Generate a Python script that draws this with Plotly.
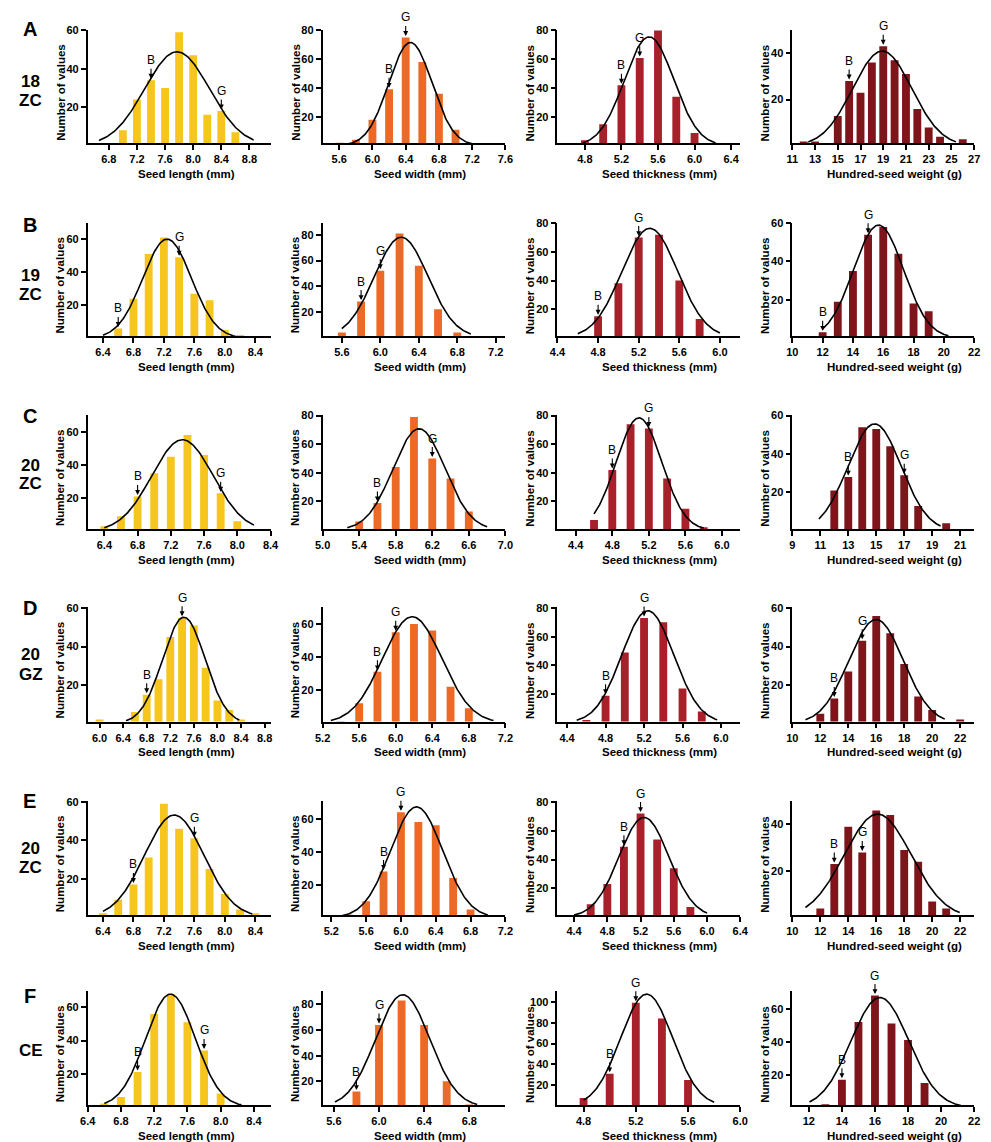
import numpy as np
import plotly.graph_objects as go

# The page body has an 8px margin: the figure is drawn at (8, 8) in the window.
OFF = 8
W, H = 991 - OFF, 1142 - OFF
FONT = "Liberation Sans, Arial, sans-serif"

row_letters = ["A", "B", "C", "D", "E", "F"]
row_ids = [["18", "ZC"], ["19", "ZC"], ["20", "ZC"], ["20", "GZ"], ["20", "ZC"], ["CE"]]
x_titles = ["Seed length (mm)", "Seed width (mm)", "Seed thickness (mm)", "Hundred-seed weight (g)"]
y_title = "Number of values"
colors = ["#F6C51E", "#EC6A26", "#A8202A", "#7D151B"]

# ---------------- bar data (bin centre, count) ----------------
A1_x = [7.0, 7.2, 7.4, 7.6, 7.8, 8.0, 8.2, 8.4, 8.6]
A1_y = [8, 24, 34, 30, 59, 47, 16, 18, 7]
A2_x = [5.6, 5.8, 6.0, 6.2, 6.4, 6.6, 6.8, 7.0, 7.2]
A2_y = [2, 4, 18, 39, 75, 58, 36, 11, 1]
A3_x = [4.8, 5.0, 5.2, 5.4, 5.6, 5.8, 6.0, 6.2]
A3_y = [4, 15, 42, 61, 80, 34, 9, 1]
A4_x = [12, 13, 14, 15, 16, 17, 18, 19, 20, 21, 22, 23, 24, 25, 26]
A4_y = [2, 2, 0, 13, 28, 23, 36, 43, 37, 31, 16, 8, 4, 0, 3]

B1_x = [6.6, 6.8, 7.0, 7.2, 7.4, 7.6, 7.8, 8.0, 8.2]
B1_y = [6, 24, 51, 61, 49, 27, 23, 5, 2]
B2_x = [5.6, 5.8, 6.0, 6.2, 6.4, 6.6, 6.8]
B2_y = [4, 28, 52, 81, 56, 22, 4]
B3_x = [4.8, 5.0, 5.2, 5.4, 5.6, 5.8]
B3_y = [15, 38, 70, 72, 40, 13]
B4_x = [12, 13, 14, 15, 16, 17, 18, 19, 20]
B4_y = [3, 19, 35, 54, 58, 44, 18, 14, 1]

C1_x = [6.4, 6.6, 6.8, 7.0, 7.2, 7.4, 7.6, 7.8, 8.0]
C1_y = [3, 9, 21, 35, 45, 58, 46, 23, 6]
C2_x = [5.4, 5.6, 5.8, 6.0, 6.2, 6.4, 6.6]
C2_y = [6, 19, 44, 79, 50, 36, 13]
C3_x = [4.6, 4.8, 5.0, 5.2, 5.4, 5.6, 5.8]
C3_y = [7, 42, 74, 71, 36, 15, 2]
C4_x = [12, 13, 14, 15, 16, 17, 18, 19, 20]
C4_y = [21, 28, 54, 53, 44, 29, 13, 0, 4]

D1_x = [6.0, 6.2, 6.4, 6.6, 6.8, 7.0, 7.2, 7.4, 7.6, 7.8, 8.0, 8.2, 8.4]
D1_y = [2, 0, 0, 6, 15, 23, 45, 55, 51, 29, 12, 7, 2]
D2_x = [5.4, 5.6, 5.8, 6.0, 6.2, 6.4, 6.6, 6.8]
D2_y = [1, 12, 31, 55, 60, 56, 22, 9]
D3_x = [4.6, 4.8, 5.0, 5.2, 5.4, 5.6, 5.8]
D3_y = [2, 19, 49, 73, 70, 24, 8]
D4_x = [12, 13, 14, 15, 16, 17, 18, 19, 20, 21, 22]
D4_y = [5, 13, 27, 43, 56, 47, 31, 14, 7, 0, 2]

E1_x = [6.4, 6.6, 6.8, 7.0, 7.2, 7.4, 7.6, 7.8, 8.0, 8.2, 8.4]
E1_y = [2, 9, 17, 31, 59, 46, 41, 25, 12, 4, 2]
E2_x = [5.4, 5.6, 5.8, 6.0, 6.2, 6.4, 6.6, 6.8]
E2_y = [2, 10, 28, 64, 58, 56, 24, 5]
E3_x = [4.6, 4.8, 5.0, 5.2, 5.4, 5.6, 5.8]
E3_y = [9, 23, 49, 72, 54, 34, 7]
E4_x = [12, 13, 14, 15, 16, 17, 18, 19, 20, 21]
E4_y = [4, 23, 39, 28, 46, 44, 29, 24, 7, 4]

F1_x = [6.6, 6.8, 7.0, 7.2, 7.4, 7.6, 7.8, 8.0, 8.2]
F1_y = [2, 6, 21, 56, 68, 51, 34, 8, 1]
F2_x = [5.6, 5.8, 6.0, 6.2, 6.4, 6.6, 6.8]
F2_y = [1, 12, 64, 83, 64, 20, 2]
F3_x = [4.8, 5.0, 5.2, 5.4, 5.6]
F3_y = [8, 31, 99, 84, 25]
F4_x = [13, 14, 15, 16, 17, 18, 19]
F4_y = [2, 17, 52, 68, 51, 41, 15]

# ---------------- fitted normal curves: (amplitude, mean, sd, x start, x end) ----------------
fit_A = [(48.8, 7.77, 0.46, 6.66, 8.86), (71.5, 6.457, 0.26, 5.66, 7.25),
         (75.6, 5.503, 0.27, 4.78, 6.23), (40.9, 18.91, 2.6, 12.4, 25.4)]
fit_B = [(60.0, 7.242, 0.32, 6.40, 8.14), (78.2, 6.217, 0.28, 5.60, 6.94),
         (76.5, 5.309, 0.275, 4.60, 6.00), (59.0, 15.69, 1.65, 12.0, 20.3)]
fit_C = [(55.2, 7.34, 0.37, 6.40, 8.20), (70.8, 6.055, 0.285, 5.27, 6.80),
         (78.4, 5.092, 0.25, 4.60, 5.80), (55.7, 14.88, 1.9, 10.9, 19.6)]
fit_D = [(55.3, 7.43, 0.36, 6.45, 8.37), (64.4, 6.18, 0.325, 5.29, 7.07),
         (78.1, 5.239, 0.27, 4.50, 5.96), (54.1, 15.99, 1.95, 10.94, 20.9)]
fit_E = [(53.1, 7.335, 0.39, 6.40, 8.36), (67.2, 6.179, 0.30, 5.31, 7.00),
         (69.4, 5.241, 0.30, 4.40, 6.00), (44.4, 16.1, 2.4, 10.94, 21.97)]
fit_F = [(68.0, 7.396, 0.30, 6.60, 8.25), (87.5, 6.21, 0.24, 5.61, 6.87),
         (107.3, 5.283, 0.20, 4.80, 5.80), (66.8, 16.3, 1.75, 12.04, 21.2)]

# ---------------- B / G markers (letter, x of marked bar) ----------------
marks_A = [[("B", 7.4), ("G", 8.4)], [("B", 6.2), ("G", 6.4)], [("B", 5.2), ("G", 5.4)], [("B", 16), ("G", 19)]]
marks_B = [[("B", 6.6), ("G", 7.4)], [("B", 5.8), ("G", 6.0)], [("B", 4.8), ("G", 5.2)], [("B", 12), ("G", 15)]]
marks_C = [[("B", 6.8), ("G", 7.8)], [("B", 5.6), ("G", 6.2)], [("B", 4.8), ("G", 5.2)], [("B", 13), ("G", 17)]]
marks_D = [[("B", 6.8), ("G", 7.4)], [("B", 5.8), ("G", 6.0)], [("B", 4.8), ("G", 5.2)], [("B", 13), ("G", 15)]]
marks_E = [[("B", 6.8), ("G", 7.6)], [("B", 5.8), ("G", 6.0)], [("B", 5.0), ("G", 5.2)], [("B", 13), ("G", 15)]]
marks_F = [[("B", 7.0), ("G", 7.8)], [("B", 5.8), ("G", 6.0)], [("B", 5.0), ("G", 5.2)], [("B", 14), ("G", 16)]]

# ---------------- axis ranges and ticks ----------------
xr_A = [(6.5, 9.1), (5.4, 7.6), (4.5, 6.5), (11, 27)]
xr_B = [(6.2, 8.6), (5.4, 7.3), (4.4, 6.2), (10, 22)]
xr_C = [(6.2, 8.4), (5.0, 7.0), (4.2, 6.2), (9, 22)]
xr_D = [(5.8, 8.9), (5.2, 7.2), (4.3, 6.2), (10, 23)]
xr_E = [(6.2, 8.6), (5.1, 7.2), (4.2, 6.4), (10, 23)]
xr_F = [(6.4, 8.6), (5.5, 7.12), (4.6, 6.0), (11, 22)]

yr_A = [(1.2, 60.2), (1.6, 80.2), (1.8, 80.4), (1.2, 50.0)]
yr_B = [(1.4, 70.0), (1.2, 89.6), (1.2, 80.5), (1.1, 60.3)]
yr_C = [(1.4, 70.2), (0.8, 80.5), (0.8, 80.5), (1.0, 60.4)]
yr_D = [(1.0, 60.7), (0.9, 70.4), (1.0, 80.8), (1.0, 60.7)]
yr_E = [(1.0, 60.5), (1.5, 70.9), (1.3, 80.9), (1.1, 50.1)]
yr_F = [(1.0, 70.0), (1.4, 90.6), (1.0, 110.5), (1.5, 70.9)]

xt_A = [[6.8, 7.2, 7.6, 8.0, 8.4, 8.8], [5.6, 6.0, 6.4, 6.8, 7.2, 7.6], [4.8, 5.2, 5.6, 6.0, 6.4], [11, 13, 15, 17, 19, 21, 23, 25, 27]]
xt_B = [[6.4, 6.8, 7.2, 7.6, 8.0, 8.4], [5.6, 6.0, 6.4, 6.8, 7.2], [4.4, 4.8, 5.2, 5.6, 6.0], [10, 12, 14, 16, 18, 20, 22]]
xt_C = [[6.4, 6.8, 7.2, 7.6, 8.0, 8.4], [5.0, 5.4, 5.8, 6.2, 6.6, 7.0], [4.4, 4.8, 5.2, 5.6, 6.0], [9, 11, 13, 15, 17, 19, 21]]
xt_D = [[6.0, 6.4, 6.8, 7.2, 7.6, 8.0, 8.4, 8.8], [5.2, 5.6, 6.0, 6.4, 6.8, 7.2], [4.4, 4.8, 5.2, 5.6, 6.0], [10, 12, 14, 16, 18, 20, 22]]
xt_E = [[6.4, 6.8, 7.2, 7.6, 8.0, 8.4], [5.2, 5.6, 6.0, 6.4, 6.8, 7.2], [4.4, 4.8, 5.2, 5.6, 6.0, 6.4], [10, 12, 14, 16, 18, 20, 22]]
xt_F = [[6.4, 6.8, 7.2, 7.6, 8.0, 8.4], [5.6, 6.0, 6.4, 6.8], [4.8, 5.2, 5.6, 6.0], [12, 14, 16, 18, 20, 22]]

yt_A = [[20, 40, 60], [20, 40, 60, 80], [20, 40, 60, 80], [20, 40]]
yt_B = [[20, 40, 60], [20, 40, 60, 80], [20, 40, 60, 80], [20, 40, 60]]
yt_C = [[20, 40, 60], [20, 40, 60, 80], [20, 40, 60, 80], [20, 40, 60]]
yt_D = [[20, 40, 60], [20, 40, 60], [20, 40, 60, 80], [20, 40, 60]]
yt_E = [[20, 40, 60], [20, 40, 60], [20, 40, 60, 80], [20, 40]]
yt_F = [[20, 40, 60], [20, 40, 60, 80], [20, 40, 60, 80, 100], [20, 40, 60]]

bars = [[(A1_x, A1_y), (A2_x, A2_y), (A3_x, A3_y), (A4_x, A4_y)],
        [(B1_x, B1_y), (B2_x, B2_y), (B3_x, B3_y), (B4_x, B4_y)],
        [(C1_x, C1_y), (C2_x, C2_y), (C3_x, C3_y), (C4_x, C4_y)],
        [(D1_x, D1_y), (D2_x, D2_y), (D3_x, D3_y), (D4_x, D4_y)],
        [(E1_x, E1_y), (E2_x, E2_y), (E3_x, E3_y), (E4_x, E4_y)],
        [(F1_x, F1_y), (F2_x, F2_y), (F3_x, F3_y), (F4_x, F4_y)]]
fits = [fit_A, fit_B, fit_C, fit_D, fit_E, fit_F]
marks = [marks_A, marks_B, marks_C, marks_D, marks_E, marks_F]
xranges = [xr_A, xr_B, xr_C, xr_D, xr_E, xr_F]
yranges = [yr_A, yr_B, yr_C, yr_D, yr_E, yr_F]
xticks = [xt_A, xt_B, xt_C, xt_D, xt_E, xt_F]
yticks = [yt_A, yt_B, yt_C, yt_D, yt_E, yt_F]

# ---------------- layout geometry (window pixels) ----------------
col_px = [(81, 267), (320, 506), (559, 745), (798, 983)]
row_px = [(24, 138), (217.7, 331.7), (411, 525.7), (604, 719.3), (799, 914), (990, 1105)]
xtitle_cx = [182, 419, 663, 902]
letter_y = [22.7, 220, 411.7, 605, 799, 995]
id_line_y = [[76, 95], [271, 290], [462, 480], [652, 672], [847, 866], [1050]]
BAR_PX = 8

fig = go.Figure()
ann = []


def px2x(p):
    return (p - OFF) / W


def px2y(p):
    return 1 - (p - OFF) / H


for r in range(6):
    for c in range(4):
        k = r * 4 + c + 1
        xa = "x" if k == 1 else f"x{k}"
        ya = "y" if k == 1 else f"y{k}"
        xs, ys = bars[r][c]
        x0p, x1p = col_px[c]
        tp, bp = row_px[r]
        xr = xranges[r][c]
        yr = yranges[r][c]
        upx = (x1p - x0p) / (xr[1] - xr[0])
        fig.add_trace(go.Bar(x=xs, y=ys, width=BAR_PX / upx,
                             marker=dict(color=colors[c], line=dict(width=0)),
                             xaxis=xa, yaxis=ya, showlegend=False, hoverinfo="skip"))
        amp, mu, sd, xa0, xa1 = fits[r][c]
        cx = np.linspace(xa0, xa1, 160)
        cy = amp * np.exp(-0.5 * ((cx - mu) / sd) ** 2)
        fig.add_trace(go.Scatter(x=cx, y=cy, mode="lines", line=dict(color="black", width=1.6),
                                 xaxis=xa, yaxis=ya, showlegend=False, hoverinfo="skip"))
        if c == 3:
            xtt = [f"<b>{int(v)}</b>" for v in xticks[r][c]]
        else:
            xtt = [f"<b>{v:.1f}</b>" for v in xticks[r][c]]
        ytt = [f"<b>{v}</b>" for v in yticks[r][c]]
        axcommon = dict(showline=True, linecolor="black", linewidth=1.6, showgrid=False,
                        zeroline=False, ticks="outside", tickwidth=1.5, tickcolor="black",
                        tickfont=dict(family=FONT, size=11, color="black"))
        fig.layout["xaxis" if k == 1 else f"xaxis{k}"] = dict(
            domain=[px2x(x0p), px2x(x1p)], range=list(xr), anchor=ya,
            tickvals=xticks[r][c], ticktext=xtt, ticklen=5, **axcommon)
        fig.layout["yaxis" if k == 1 else f"yaxis{k}"] = dict(
            domain=[px2y(bp), px2y(tp)], range=list(yr), anchor=xa,
            tickvals=yticks[r][c], ticktext=ytt, ticklen=5, **axcommon)
        # B / G arrows
        for lab, xv in marks[r][c]:
            hv = ys[min(range(len(xs)), key=lambda i: abs(xs[i] - xv))]
            ann.append(dict(x=xv, y=hv, xref=xa, yref=ya, text=lab, showarrow=True,
                            arrowhead=2, arrowsize=0.9, arrowwidth=1.1, arrowcolor="black",
                            ax=0, ay=-20, standoff=1.5,
                            font=dict(family=FONT, size=12, color="black")))
        # axis titles
        ann.append(dict(x=px2x(xtitle_cx[c]), y=px2y(bp + 31), xref="paper", yref="paper",
                        text=f"<b>{x_titles[c]}</b>", showarrow=False, xanchor="center",
                        yanchor="middle", font=dict(family=FONT, size=11.5, color="black")))
        ann.append(dict(x=px2x(x0p - 28), y=px2y((tp + bp) / 2 + 6), xref="paper", yref="paper",
                        text=f"<b>{y_title}</b>", showarrow=False, textangle=-90,
                        xanchor="center", yanchor="middle",
                        font=dict(family=FONT, size=11.5, color="black")))
    ann.append(dict(x=px2x(22), y=px2y(letter_y[r]), xref="paper", yref="paper",
                    text=f"<b>{row_letters[r]}</b>", showarrow=False, xanchor="center",
                    yanchor="middle", font=dict(family=FONT, size=20, color="black")))
    for txt, yy in zip(row_ids[r], id_line_y[r]):
        ann.append(dict(x=px2x(23), y=px2y(yy), xref="paper", yref="paper",
                        text=f"<b>{txt}</b>", showarrow=False, xanchor="center",
                        yanchor="middle", font=dict(family=FONT, size=17, color="black")))

fig.update_layout(width=W, height=H, margin=dict(l=0, r=0, t=0, b=0),
                  plot_bgcolor="white", paper_bgcolor="white", annotations=ann,
                  showlegend=False, font=dict(family=FONT))
fig.write_html("out.html")
